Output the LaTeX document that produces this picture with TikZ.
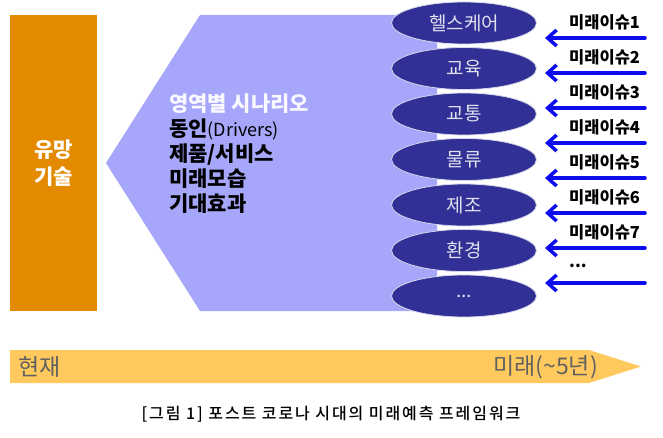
\documentclass[tikz,border=0pt]{standalone}
\usepackage{fontspec}
\setmainfont{Noto Sans CJK KR}
\newfontfamily\capfont{Noto Sans CJK KR Medium}
\usetikzlibrary{arrows.meta,shapes.geometric}
\definecolor{techorange}{rgb}{0.89,0.54,0}
\definecolor{scenlilac}{rgb}{0.65,0.65,0.98}
\definecolor{fieldnavy}{rgb}{0.19,0.19,0.59}
\definecolor{issueblue}{rgb}{0.05,0.05,0.92}
\definecolor{timeamber}{rgb}{1,0.79,0.37}
\definecolor{timegray}{rgb}{0.38,0.38,0.38}

\begin{document}
\begin{tikzpicture}[line cap=round,line join=round,x=1pt,y=-1pt,every node/.style={inner sep=0pt},
  field/.style={ellipse,fill=fieldnavy,draw=white!80!fieldnavy,line width=0.8pt,minimum width=145pt,minimum height=42pt,text=white!85!fieldnavy,font=\fontsize{19}{19}\selectfont},
  issue/.style={anchor=west,font=\bfseries\fontsize{16.5}{16.5}\selectfont},
  issuearrow/.style={draw=issueblue,line width=3.5pt,-{Straight Barb[length=9pt,width=16pt]}}]
\useasboundingbox (0,0) rectangle (663,438);
% left block and scenario pentagon
\fill[techorange] (10,15) rectangle (97,311);
\node[text=white,align=center,font=\bfseries\fontsize{21}{27}\selectfont] (tech) at (53.5,163) {유망\\기술};
\fill[scenlilac] (106,163) -- (200,15) -- (437,15) -- (437,311) -- (200,311) -- cycle;
\node[anchor=west,align=left,font=\bfseries\fontsize{21}{25}\selectfont] (scen) at (169,154)
  {\textcolor{white!92!scenlilac}{영역별 시나리오}\\동인{\mdseries\fontsize{18}{25}\selectfont(Drivers)}\\제품/서비스\\미래모습\\기대효과};
% fields
\node[field] (f1) at (464,23) {헬스케어};
\node[field] (f2) at (464,68.5) {교육};
\node[field] (f3) at (464,114) {교통};
\node[field] (f4) at (464,159.5) {물류};
\node[field] (f5) at (464,205) {제조};
\node[field] (f6) at (464,250.5) {환경};
\node[field] (f7) at (464,296) {...};
% future issues
\coordinate (s1) at (645,38);  \coordinate (t1) at (545,38);
\coordinate (s2) at (645,73);  \coordinate (t2) at (545,73);
\coordinate (s3) at (645,108); \coordinate (t3) at (545,108);
\coordinate (s4) at (645,143); \coordinate (t4) at (545,143);
\coordinate (s5) at (645,178); \coordinate (t5) at (545,178);
\coordinate (s6) at (645,213); \coordinate (t6) at (545,213);
\coordinate (s7) at (645,248); \coordinate (t7) at (545,248);
\coordinate (s8) at (645,283); \coordinate (t8) at (545,283);
\draw[issuearrow] (s1) -- (t1);
\draw[issuearrow] (s2) -- (t2);
\draw[issuearrow] (s3) -- (t3);
\draw[issuearrow] (s4) -- (t4);
\draw[issuearrow] (s5) -- (t5);
\draw[issuearrow] (s6) -- (t6);
\draw[issuearrow] (s7) -- (t7);
\draw[issuearrow] (s8) -- (t8);
\node[issue] (i1) at (569,22) {미래이슈1};
\node[issue] (i2) at (569,57) {미래이슈2};
\node[issue] (i3) at (569,92) {미래이슈3};
\node[issue] (i4) at (569,127) {미래이슈4};
\node[issue] (i5) at (569,162) {미래이슈5};
\node[issue] (i6) at (569,197) {미래이슈6};
\node[issue] (i7) at (569,232) {미래이슈7};
\node[issue] (i8) at (569,266) {...};
% time line
\fill[timeamber] (10,350) -- (589,350) -- (641,366.5) -- (589,383) -- (10,383) -- cycle;
\node[anchor=west,text=timegray,font=\fontsize{23}{23}\selectfont] (now) at (18,367) {현재};
\node[anchor=east,text=timegray,font=\fontsize{23}{23}\selectfont] (later) at (598,367) {미래(\textasciitilde 5년)};
\node[font=\capfont\fontsize{16}{16}\selectfont\addfontfeature{LetterSpace=12}] (cap) at (331,414) {[그림 1] 포스트 코로나 시대의 미래예측 프레임워크};
\end{tikzpicture}
\end{document}
